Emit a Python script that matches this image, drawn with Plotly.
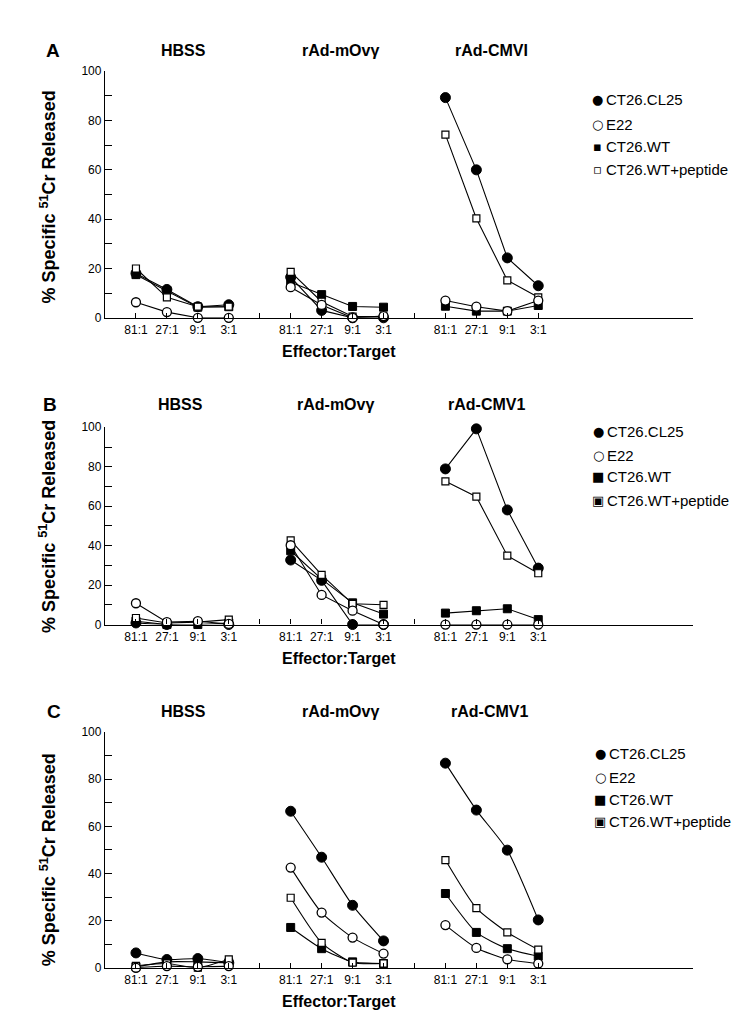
import plotly.graph_objects as go

W, H = 750, 1022

ratios = ["81:1", "27:1", "9:1", "3:1"]
series_names = ["CT26.CL25", "E22", "CT26.WT", "CT26.WT+peptide"]
group_titles = {
    "A": ["HBSS", "rAd-mOvγ", "rAd-CMVI"],
    "B": ["HBSS", "rAd-mOvγ", "rAd-CMV1"],
    "C": ["HBSS", "rAd-mOvγ", "rAd-CMV1"],
}

# values per group: HBSS, rAd-mOvγ, rAd-CMV
A_CL25 = [18, 11.5, 4.5, 5.3,   16.5, 3, 0, 0,        89.3, 60, 24.3, 13]
A_E22  = [6.3, 2.3, 0, 0,       12.4, 5.2, 0, 0.7,    7, 4.5, 2.7, 7]
A_WT   = [17.5, 11, 4.3, 4.5,   14.4, 9.4, 4.6, 4.3,  4.7, 2.7, 2.7, 5]
A_PEP  = [20, 8.3, 4.5, 4.5,    18.6, 6.5, 0.5, 0.5,  74.3, 40.3, 15.2, 8.3]

B_CL25 = [0.8, 0, -1, 0,        32.7, 22.4, 0, 0,     78.9, 99.2, 58.1, 28.6]
B_E22  = [10.8, 1.2, 1.7, 0.3,  40.2, 15, 7, 0,       0, 0, 0, 0]
B_WT   = [1.7, 0, 0, 0.8,       37.4, 23, 11, 5.3,    5.8, 7, 8, 2.5]
B_PEP  = [3.3, 0.8, 1.2, 2.5,   42.7, 25.2, 10.5, 10, 72.6, 64.8, 34.9, 26]

C_CL25 = [6.3, 3.5, 3.9, 2.1,   66.4, 46.9, 26.5, 11.4, 86.8, 66.9, 49.9, 20.3]
C_E22  = [0, 0.7, 0.4, 0.7,     42.5, 23.4, 12.8, 6,    18.1, 8.4, 3.6, 1.8]
C_WT   = [0.4, 2.5, 2.5, 2.1,   17.1, 8.1, 2.5, 1.8,    31.5, 15, 8.1, 4.9]
C_PEP  = [0.8, 1.8, 0, 3.6,     29.7, 10.6, 2.2, 1.8,   45.7, 25.3, 15, 7.7]

panels = {
    "A": [A_CL25, A_E22, A_WT, A_PEP],
    "B": [B_CL25, B_E22, B_WT, B_PEP],
    "C": [C_CL25, C_E22, C_WT, C_PEP],
}

# pixel geometry of each panel: (y of 0, y of 100)
geom = {"A": (307, 57), "B": (618, 418), "C": (966, 727)}
title_y = {"A": 36, "B": 395, "C": 706}
title_x = {"A": [175, 332, 483], "B": [172, 327, 478], "C": [175, 332, 481]}
letter_x = {"A": 45, "B": 42, "C": 46}
ytitle_y = {"A": 185, "B": 519, "C": 857}
legend_x = {"A": 589, "B": 590, "C": 592}
legend_y = {"A": [86, 111, 133, 157], "B": [422, 447, 468, 492], "C": [749, 773, 795, 818]}
legend_sym = {"A": ["●", "○", "▪", "▫"], "B": ["●", "○", "■", "▣"], "C": ["●", "○", "■", "▣"]}
X0, X1 = 97, 685

def px(x):
    return x / W

def py(y):
    return 1 - y / H

markers = [
    dict(symbol="circle", size=10, color="black", line=dict(color="black", width=1)),
    dict(symbol="circle", size=9, color="white", line=dict(color="black", width=1.3)),
    dict(symbol="square", size=8, color="black", line=dict(color="black", width=1)),
    dict(symbol="square", size=7, color="white", line=dict(color="black", width=1.2)),
]

FONT = "Liberation Sans Narrow, Arial Narrow, Liberation Sans, Arial, sans-serif"
BOLD = "Liberation Sans, Arial, Helvetica, sans-serif"

fig = go.Figure()
annotations = []
draw_order = [2, 0, 3, 1]

tickvals = [g * 5 + k for g in range(3) for k in range(4)]
ticktext = [ratios[k] for g in range(3) for k in range(4)]


def ann(text, x, y, size, family=BOLD, xanchor="center", angle=0):
    annotations.append(dict(text=text, x=px(x), y=py(y), xref="paper", yref="paper",
                            showarrow=False, xanchor=xanchor, yanchor="middle",
                            textangle=angle, font=dict(family=family, size=size, color="black")))


for pi, P in enumerate(["A", "B", "C"]):
    sfx = "" if pi == 0 else str(pi + 1)
    xa, ya = "x" + sfx, "y" + sfx
    for si in draw_order:
        vals = panels[P][si]
        xs, ys = [], []
        for g in range(3):
            for k in range(4):
                xs.append(g * 5 + k)
                ys.append(vals[g * 4 + k])
            xs.append(None)
            ys.append(None)
        fig.add_trace(go.Scatter(
            x=xs, y=ys, xaxis=xa, yaxis=ya, mode="lines+markers",
            line=dict(color="black", width=1.1,
                      shape="spline" if P == "C" else "linear", smoothing=0.6),
            marker=markers[si], showlegend=False, cliponaxis=False, name=series_names[si],
        ))
    y0, y100 = geom[P]
    fig.layout["xaxis" + sfx] = dict(
        domain=[px(X0), px(X1)], range=[-1, 18], anchor=ya,
        showline=True, linecolor="black", linewidth=1.3, showgrid=False, zeroline=False,
        tickmode="array", tickvals=tickvals, ticktext=ticktext,
        ticks="inside", ticklen=5, tickwidth=1, tickcolor="black",
        minor=dict(tickmode="array", tickvals=[4, 9], ticks="inside", ticklen=5,
                   tickwidth=1, tickcolor="black", showgrid=False),
        ticklabelstandoff=1,
        tickfont=dict(family=FONT, size=12, color="black"),
    )
    fig.layout["yaxis" + sfx] = dict(
        domain=[py(y0), py(y100)], range=[0, 100], anchor=xa,
        showline=True, linecolor="black", linewidth=1.3, showgrid=False, zeroline=False,
        tickmode="array", tickvals=list(range(0, 101, 20)),
        ticks="inside", ticklen=7, tickwidth=1, tickcolor="black",
        minor=dict(tickmode="array", tickvals=list(range(10, 100, 20)), ticks="inside",
                   ticklen=7, tickwidth=1, tickcolor="black", showgrid=False),
        tickfont=dict(family=FONT, size=12, color="black"),
    )
    ann("<b>%s</b>" % P, letter_x[P], title_y[P], 19)
    for gi, t in enumerate(group_titles[P]):
        ann("<b>%s</b>" % t, title_x[P][gi], title_y[P], 16)
    ann("<b>% Specific <sup>51</sup>Cr Released</b>", 40, ytitle_y[P], 18, angle=-90)
    ann("<b>Effector:Target</b>", 331, y0 + 34, 16)
    for li in range(4):
        ann(legend_sym[P][li], legend_x[P], legend_y[P][li], 13, family="DejaVu Sans")
        ann(series_names[li], legend_x[P] + 7, legend_y[P][li], 15, family=FONT, xanchor="left")

fig.update_layout(
    width=W, height=H, margin=dict(l=0, r=0, t=0, b=0),
    paper_bgcolor="white", plot_bgcolor="white",
    annotations=annotations, showlegend=False,
)

fig.write_html("out.html")
